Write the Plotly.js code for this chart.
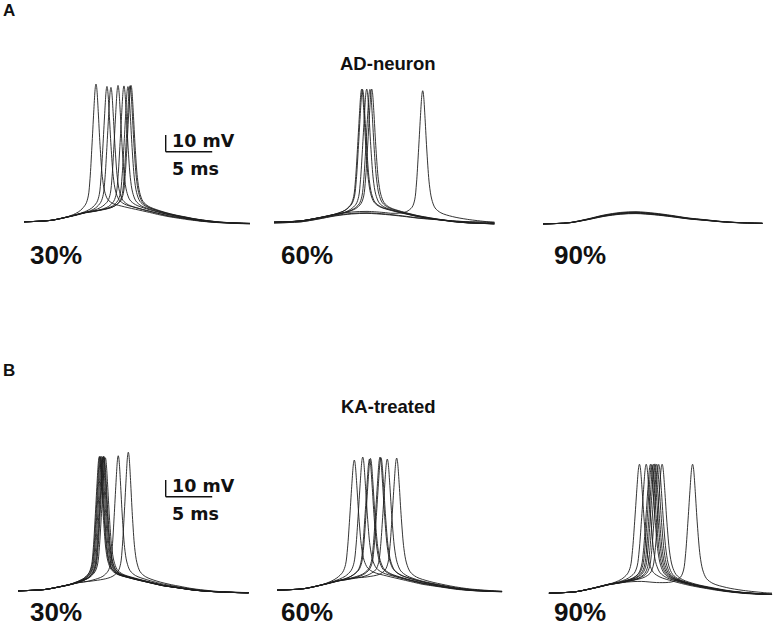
<!DOCTYPE html>
<html>
<head>
<meta charset="utf-8">
<script src="https://cdn.plot.ly/plotly-3.0.1.min.js"></script>
<style>html,body{margin:0;padding:0;background:#fff;}#chart{width:776px;height:633px;}</style>
</head>
<body>
<div id="chart"></div>
<script>
// ---------- DATA ----------
// Sub-threshold EPSP shape (ms, mV above rest)
const epspTimeMs = [0, 1.5, 2.9, 4.75, 6.56, 8.37, 10.0, 12.0, 13.8, 15.6, 17.4, 19.2, 21.0, 23.6, 25.5];
const epspMv     = [0, 0.3, 0.8, 2.7, 4.9, 6.3, 6.7, 5.9, 4.7, 3.3, 2.35, 1.4, 0.8, 0.4, 0.3];
// Action-potential waveform added on top of the EPSP (ms from peak, mV)
const spikeTimeMs = [-3.0, -2.0, -1.5, -1.0, -0.75, -0.58, -0.40, -0.22, -0.1, -0.04, 0, 0.04, 0.1, 0.22, 0.40, 0.62, 0.84, 1.16, 1.7, 2.8, 4.2, 6.0, 9.0, 14.0, 25.0];
const spikeMv     = [0.5, 1.4, 2.6, 5.5, 10, 20, 38, 58, 70, 73.3, 74, 73.3, 70, 58, 38, 20, 11.5, 6.5, 4.0, 2.4, 1.3, 0.3, -0.6, -1.0, -1.0];

// Panel A: AD-neuron
const ad30SpikePeakMs = [7.74, 8.92, 9.35, 10.11, 10.75, 11.18, 11.40, 11.51];
const ad30SpikePeakMv = [83.0, 81.6, 81.0, 82.2, 81.9, 81.5, 82.0, 82.2];
const ad30EpspScale   = [1.10, 1.12, 1.08, 1.15, 1.10, 1.13, 1.12, 1.16];

const ad60SpikePeakMs = [9.43, 9.52, 9.97, 10.32, 10.51, 15.99, null, null];
const ad60SpikePeakMv = [80.2, 80.0, 80.2, 80.0, 80.2, 79.2, null, null];
const ad60EpspScale   = [0.92, 0.95, 0.90, 0.93, 0.94, 0.96, 0.86, 0.91];

const ad90SpikePeakMs = [null, null, null, null, null, null];
const ad90SpikePeakMv = [null, null, null, null, null, null];
const ad90EpspScale   = [0.93, 1.00, 1.05, 1.10, 0.96, 1.02];

// Panel B: KA-treated
const ka30SpikePeakMs = [8.74, 8.82, 8.89, 9.00, 9.11, 9.19, 9.25, 9.39, 10.78, 11.86];
const ka30SpikePeakMv = [80.8, 81.2, 80.4, 81.0, 80.6, 81.2, 80.8, 80.2, 81.4, 83.5];
const ka30EpspScale   = [1.02, 1.05, 1.00, 1.04, 0.98, 1.03, 1.01, 1.06, 1.02, 1.00];

const ka60SpikePeakMs = [8.31, 9.22, 9.95, 10.05, 11.08, 11.18, 11.86, 12.87];
const ka60SpikePeakMv = [78.4, 80.2, 79.0, 79.4, 80.2, 79.8, 79.0, 79.6];
const ka60EpspScale   = [1.12, 1.15, 1.10, 1.14, 1.16, 1.12, 1.13, 1.17];

const ka90SpikePeakMs = [9.78, 10.51, 10.97, 11.11, 11.29, 11.45, 11.65, 11.86, 12.23, 15.52];
const ka90SpikePeakMv = [77.7, 77.7, 77.7, 77.5, 77.7, 77.9, 77.7, 77.6, 77.7, 77.7];
const ka90EpspScale   = [1.08, 1.10, 1.06, 1.12, 1.09, 1.11, 1.07, 1.10, 1.13, 1.05];

const titles = ["AD-neuron", "KA-treated"];
const panelLetters = ["A", "B"];
const percentLabels = ["30%", "60%", "90%"];
const scaleBarMs = 5, scaleBarMv = 10;
const scaleLabels = ["10 mV", "5 ms"];

// ---------- LAYOUT GEOMETRY (pixels) ----------
const W = 776, H = 633, PX_PER_MS = 9.3, PX_PER_MV = 1.67;
const panels = [
  {x0: 24,  yb: 222.7, dur: 24.3, w: 1.10, t: ad30SpikePeakMs, p: ad30SpikePeakMv, e: ad30EpspScale},
  {x0: 274, yb: 223.0, dur: 23.7, w: 1.15, t: ad60SpikePeakMs, p: ad60SpikePeakMv, e: ad60EpspScale},
  {x0: 543, yb: 224.0, dur: 23.6, w: 1.00, t: ad90SpikePeakMs, p: ad90SpikePeakMv, e: ad90EpspScale},
  {x0: 18,  yb: 591.7, dur: 24.8, w: 1.10, t: ka30SpikePeakMs, p: ka30SpikePeakMv, e: ka30EpspScale},
  {x0: 277, yb: 591.0, dur: 24.2, w: 1.25, t: ka60SpikePeakMs, p: ka60SpikePeakMv, e: ka60EpspScale},
  {x0: 549, yb: 594.0, dur: 24.1, w: 1.30, t: ka90SpikePeakMs, p: ka90SpikePeakMv, e: ka90EpspScale}
];

function interp(xs, ys, x) {
  const n = xs.length;
  if (x <= xs[0]) return ys[0];
  if (x >= xs[n-1]) return ys[n-1];
  let i = 0;
  while (xs[i+1] < x) i++;
  const f = (x - xs[i]) / (xs[i+1] - xs[i]);
  return ys[i] + f * (ys[i+1] - ys[i]);
}

const data = [];
const layout = {
  width: W, height: H,
  margin: {l: 0, r: 0, t: 0, b: 0},
  paper_bgcolor: '#fff', plot_bgcolor: 'rgba(0,0,0,0)',
  showlegend: false,
  shapes: [], annotations: []
};

panels.forEach((P, k) => {
  const id = k === 0 ? '' : String(k + 1);
  const leftPx = 15, rightPx = P.dur * PX_PER_MS + 4, topPx = 150, botPx = 25;
  layout['xaxis' + id] = {
    domain: [(P.x0 - leftPx) / W, (P.x0 + rightPx) / W],
    range: [-leftPx / PX_PER_MS, rightPx / PX_PER_MS],
    visible: false, fixedrange: true, anchor: 'y' + id
  };
  layout['yaxis' + id] = {
    domain: [(H - (P.yb + botPx)) / H, (H - (P.yb - topPx)) / H],
    range: [-botPx / PX_PER_MV, topPx / PX_PER_MV],
    visible: false, fixedrange: true, anchor: 'x' + id
  };
  const ep = (t, s) => interp(epspTimeMs, epspMv, t) * s;
  P.e.forEach((scale, j) => {
    const tp = P.t[j];
    let ts = epspTimeMs.filter(t => t < P.dur);
    if (tp != null) ts = ts.filter(t => t < tp - 3.2 * P.w || t > tp + 4.5 * P.w);
    if (tp != null) ts = ts.concat(spikeTimeMs.map(s => tp + s * P.w).filter(t => t >= 0 && t <= P.dur));
    ts.push(P.dur);
    ts.sort((a, b) => a - b);
    const amp = tp != null ? (P.p[j] - ep(tp, scale)) / 74 : 0;
    const vs = ts.map(t => ep(t, scale) + (tp != null ? interp(spikeTimeMs, spikeMv, (t - tp) / P.w) * amp : 0));
    data.push({
      type: 'scatter', mode: 'lines', x: ts, y: vs,
      xaxis: 'x' + id, yaxis: 'y' + id,
      line: {color: '#1e1e1e', width: 0.9, shape: 'spline', smoothing: 0.9},
      hoverinfo: 'skip'
    });
  });
});

// scale bars (panels 1 and 4)
[[0, 165.7, 151.7], [3, 165.7, 496.7]].forEach(([k, bx, by]) => {
  const P = panels[k];
  const id = k === 0 ? '' : String(k + 1);
  const t0 = (bx - P.x0) / PX_PER_MS, v0 = (P.yb - by) / PX_PER_MV;
  layout.shapes.push({type: 'line', xref: 'x' + id, yref: 'y' + id, x0: t0, x1: t0, y0: v0, y1: v0 + scaleBarMv, line: {color: '#111', width: 1.4}});
  layout.shapes.push({type: 'line', xref: 'x' + id, yref: 'y' + id, x0: t0, x1: t0 + scaleBarMs, y0: v0, y1: v0, line: {color: '#111', width: 1.4}});
  layout.annotations.push({xref: 'paper', yref: 'paper', x: 170 / W, y: 1 - (by - 10.5) / H, xanchor: 'left', yanchor: 'middle', showarrow: false,
    text: '<b>' + scaleLabels[0] + '</b>', font: {family: 'DejaVu Sans', size: 17.5, color: '#111'}});
  layout.annotations.push({xref: 'paper', yref: 'paper', x: 170 / W, y: 1 - (by + 17) / H, xanchor: 'left', yanchor: 'middle', showarrow: false,
    text: '<b>' + scaleLabels[1] + '</b>', font: {family: 'DejaVu Sans', size: 17.5, color: '#111'}});
});

const pctX = [28, 278.5, 552];
const pctY = [255, 612];
const titleY = [64, 406];
const letterY = [10.5, 370];
[0, 1].forEach(r => {
  layout.annotations.push({xref: 'paper', yref: 'paper', x: 388 / W, y: 1 - titleY[r] / H, xanchor: 'center', yanchor: 'middle', showarrow: false,
    text: '<b>' + titles[r] + '</b>', font: {family: 'Liberation Sans', size: 18.5, color: '#111'}});
  layout.annotations.push({xref: 'paper', yref: 'paper', x: 1 / W, y: 1 - letterY[r] / H, xanchor: 'left', yanchor: 'middle', showarrow: false,
    text: '<b>' + panelLetters[r] + '</b>', font: {family: 'Liberation Sans', size: 17, color: '#111'}});
  percentLabels.forEach((lab, c) => {
    layout.annotations.push({xref: 'paper', yref: 'paper', x: pctX[c] / W, y: 1 - pctY[r] / H, xanchor: 'left', yanchor: 'middle', showarrow: false,
      text: '<b>' + lab + '</b>', font: {family: 'Liberation Sans', size: 26, color: '#111'}});
  });
});

Plotly.newPlot('chart', data, layout, {staticPlot: true, displayModeBar: false});
</script>
</body>
</html>
